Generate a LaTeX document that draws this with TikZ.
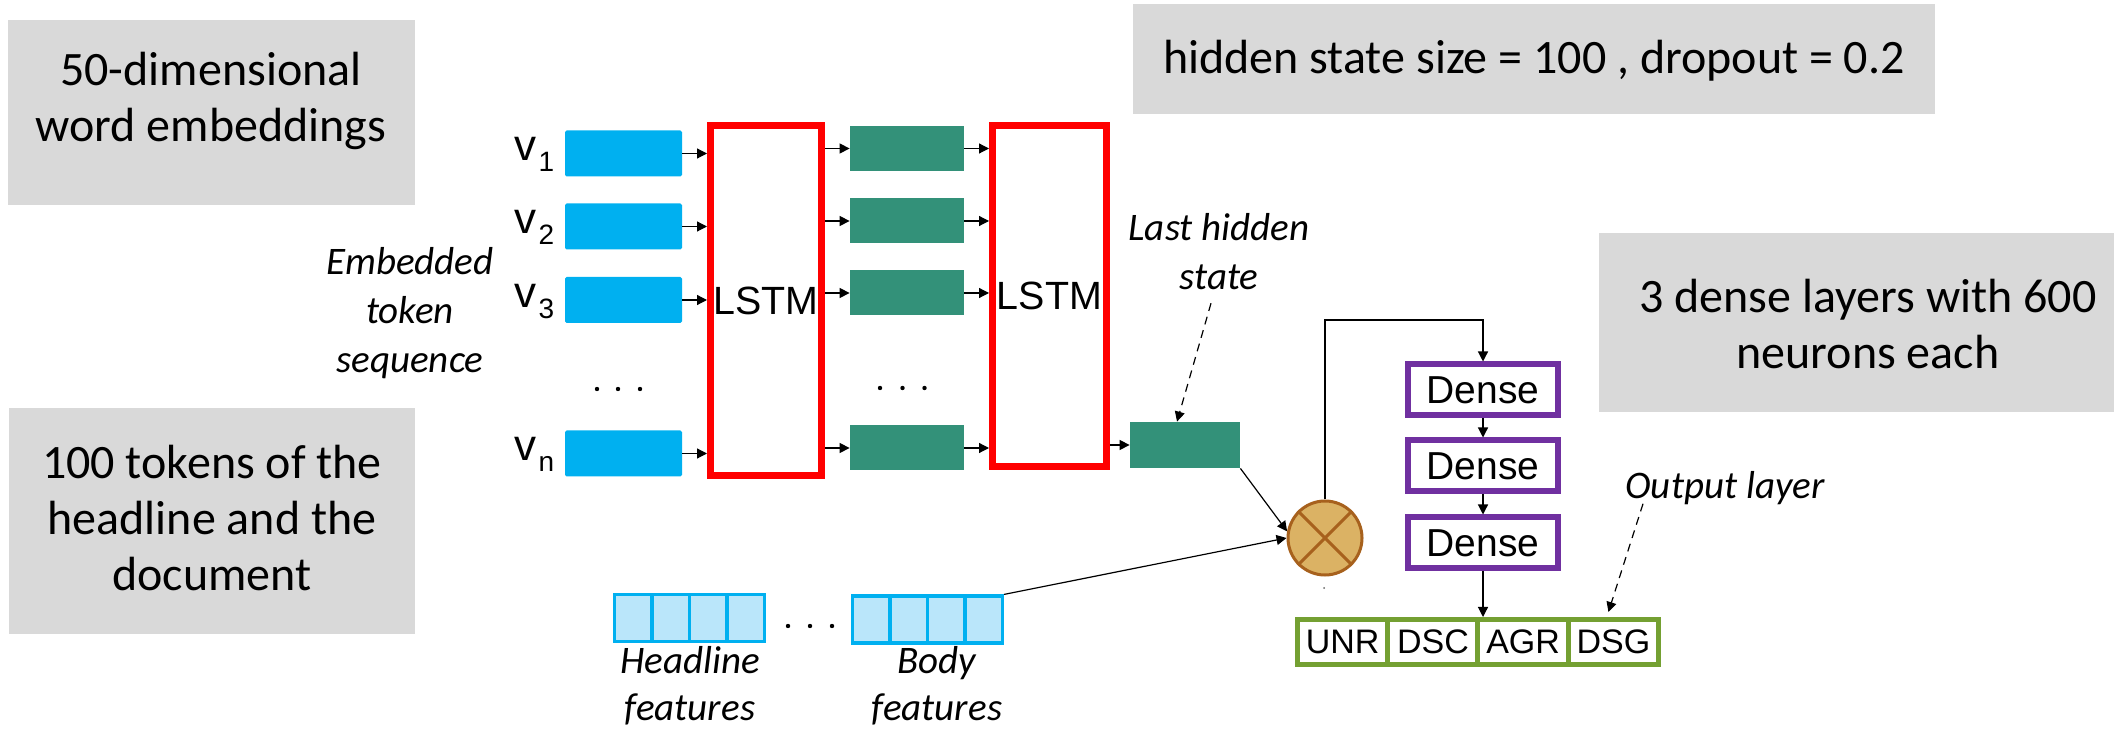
\documentclass[tikz,border=0pt]{standalone}
\usepackage{fontspec}
\setmainfont{Carlito}
\newfontfamily\arialfont{Liberation Sans}
\usetikzlibrary{arrows.meta}
\definecolor{boxgray}{HTML}{D9D9D9}
\definecolor{embblue}{HTML}{00B0F0}
\definecolor{featblue}{HTML}{BAE6FA}
\definecolor{hidteal}{HTML}{339179}
\definecolor{lstmred}{HTML}{FF0000}
\definecolor{densepurple}{HTML}{7030A0}
\definecolor{outgreen}{HTML}{74A032}
\definecolor{opfill}{HTML}{DBB264}
\definecolor{opdraw}{HTML}{A7611D}
\begin{document}
\begin{tikzpicture}[x=0.5pt,y=-0.5pt,
  note/.style={fill=boxgray, draw=none, inner sep=0},
  notetext/.style={align=center, inner sep=0, font=\fontsize{24}{28}\selectfont},
  emb/.style={fill=embblue, minimum width=58.5pt, minimum height=23pt, inner sep=0, rounded corners=0.8pt},
  hid/.style={fill=hidteal, minimum width=57pt, minimum height=22.5pt, inner sep=0},
  lstm/.style={draw=lstmred, line width=3.5pt, inner sep=0, font=\arialfont\fontsize{19.7}{20}\selectfont},
  dense/.style={draw=densepurple, line width=3pt, fill=white, minimum width=75pt, minimum height=25.5pt, inner sep=0, font=\arialfont\fontsize{19.5}{20}\selectfont},
  outcell/.style={draw=outgreen, line width=2.5pt, fill=white, minimum width=45.125pt, minimum height=22.5pt, inner sep=0, font=\arialfont\fontsize{17}{17}\selectfont},
  feat/.style={draw=embblue, fill=featblue, line width=1.6pt, minimum width=18.75pt, minimum height=23.5pt, inner sep=0},
  lbl/.style={align=center, font=\itshape\fontsize{19.5}{24.5}\selectfont},
  vlabel/.style={anchor=base east, inner sep=0, font=\arialfont\fontsize{22}{22}\selectfont},
  arr/.style={-{Triangle[length=5pt,width=5pt]}, line width=0.6pt},
  darr/.style={arr, dash pattern=on 4pt off 3pt},
  dot/.style={fill=black}
]
\useasboundingbox (0,0) rectangle (2120,731);

% grey annotation boxes
\node[note, minimum width=203.5pt, minimum height=92.5pt] (g1) at (211.5,112.5) {};
\node[notetext] (g1t) at (211,101) {50-dimensional\\word embeddings};
\node[note, minimum width=203pt, minimum height=113pt] (g2) at (212,521) {};
\node[notetext] (g2t) at (212,518) {100 tokens of the\\headline and the\\document};
\node[note, minimum width=401pt, minimum height=55pt] (g3) at (1534,59) {};
\node[notetext] (g3t) at (1534,61) {hidden state size = 100 , dropout = 0.2};
\node[note, minimum width=257.5pt, minimum height=89.5pt] (g4) at (1856.5,322.5) {};
\node[notetext] (g4t) at (1868,324) {3 dense layers with 600\\neurons each};

% embedded token sequence
\node[lbl] (ets) at (410,313) {Embedded\\token\\sequence};
\node[emb] (e1) at (623.5,153.5) {};
\node[emb] (e2) at (623.5,226.5) {};
\node[emb] (e3) at (623.5,300) {};
\node[emb] (e4) at (623.5,453.5) {};
\node[vlabel] (v1) at ([xshift=-5pt,yshift=-3.75pt]e1.west) {v\kern1pt\raisebox{-5.5pt}{\fontsize{14}{14}\selectfont 1}};
\node[vlabel] (v2) at ([xshift=-5pt,yshift=-3.75pt]e2.west) {v\kern1pt\raisebox{-5.5pt}{\fontsize{14}{14}\selectfont 2}};
\node[vlabel] (v3) at ([xshift=-5pt,yshift=-3.75pt]e3.west) {v\kern1pt\raisebox{-5.5pt}{\fontsize{14}{14}\selectfont 3}};
\node[vlabel] (v4) at ([xshift=-5pt,yshift=-3.75pt]e4.west) {v\kern1pt\raisebox{-5.5pt}{\fontsize{14}{14}\selectfont n}};
\foreach \x in {597,618,640} \fill[dot] (\x,389) circle[radius=2.2];

% two LSTM layers
\node[lstm, minimum width=55.5pt, minimum height=175pt] (l1) at (766,300.5) {LSTM};
\node[hid] (s1) at (907,148.5) {};
\node[hid] (s2) at (907,221) {};
\node[hid] (s3) at (907,293) {};
\node[hid] (s4) at (907,448) {};
\foreach \x in {880,902.5,924.5} \fill[dot] (\x,388) circle[radius=2.2];
\node[lstm, minimum width=57pt, minimum height=170.5pt] (l2) at (1049.5,296) {LSTM};
\node[hid, minimum width=55pt, minimum height=23pt] (lh) at (1185,445) {};
\node[lbl] (lhl) at (1219,252) {Last hidden\\state};

\foreach \i in {1,...,4} {
  \draw[arr] (e\i.east) -- (e\i.east -| l1.west);
  \draw[arr] (s\i.west -| l1.east) -- (s\i.west);
  \draw[arr] (s\i.east) -- (s\i.east -| l2.west);
}
\draw[arr] (lh.west -| l2.east) -- (lh.west);
\draw[darr] ([xshift=-4pt,yshift=-3pt]lhl.south) -- ([xshift=-4pt]lh.north);

% handcrafted features
\node[feat] (fh1) at (633.25,618) {};
\node[feat] (fh2) at (670.75,618) {};
\node[feat] (fh3) at (708.25,618) {};
\node[feat] (fh4) at (745.75,618) {};
\foreach \x in {788,810,832} \fill[dot] (\x,626) circle[radius=2.2];
\node[feat] (fb1) at (871.25,619.5) {};
\node[feat] (fb2) at (908.75,619.5) {};
\node[feat] (fb3) at (946.25,619.5) {};
\node[feat] (fb4) at (983.75,619.5) {};
\node[lbl, font=\itshape\fontsize{19.5}{23.5}\selectfont] (hfl) at (690,686) {Headline\\features};
\node[lbl, font=\itshape\fontsize{19.5}{23.5}\selectfont] (bfl) at (937,686) {Body\\features};

% concatenation
\node[circle, draw=opdraw, fill=opfill, line width=1.5pt, minimum size=37pt, inner sep=0] (op) at (1325,538) {};
\draw[opdraw, line width=1.5pt] (op.north west) -- (op.south east) (op.north east) -- (op.south west);
\fill[black!60] (1324,588) circle[radius=1];
\draw[arr] (lh.south east) -- (op.170);
\draw[arr] (fb4.north east) -- (op.west);

% dense layers and output
\node[dense] (d1) at (1483,390) {Dense};
\node[dense] (d2) at (1483,466) {Dense};
\node[dense] (d3) at (1483,543) {Dense};
\coordinate (turn) at (1400,320);
\draw[arr] (op.north) |- (turn) -| (d1.north);
\draw[arr] (d1.south) -- (d2.north);
\draw[arr] (d2.south) -- (d3.north);

\node[outcell] (c1) at (1342.6,642) {UNR};
\node[outcell] (c2) at (1432.9,642) {DSC};
\node[outcell] (c3) at (1523.1,642) {AGR};
\node[outcell] (c4) at (1613.4,642) {DSG};
\draw[arr] (d3.south) -- (d3.south |- c3.north);
\node[lbl] (ol) at (1725,488) {Output layer};
\draw[darr] ([xshift=-41pt,yshift=4pt]ol.south) -- ([xshift=-2.5pt,yshift=2.5pt]c4.north);
\end{tikzpicture}
\end{document}
